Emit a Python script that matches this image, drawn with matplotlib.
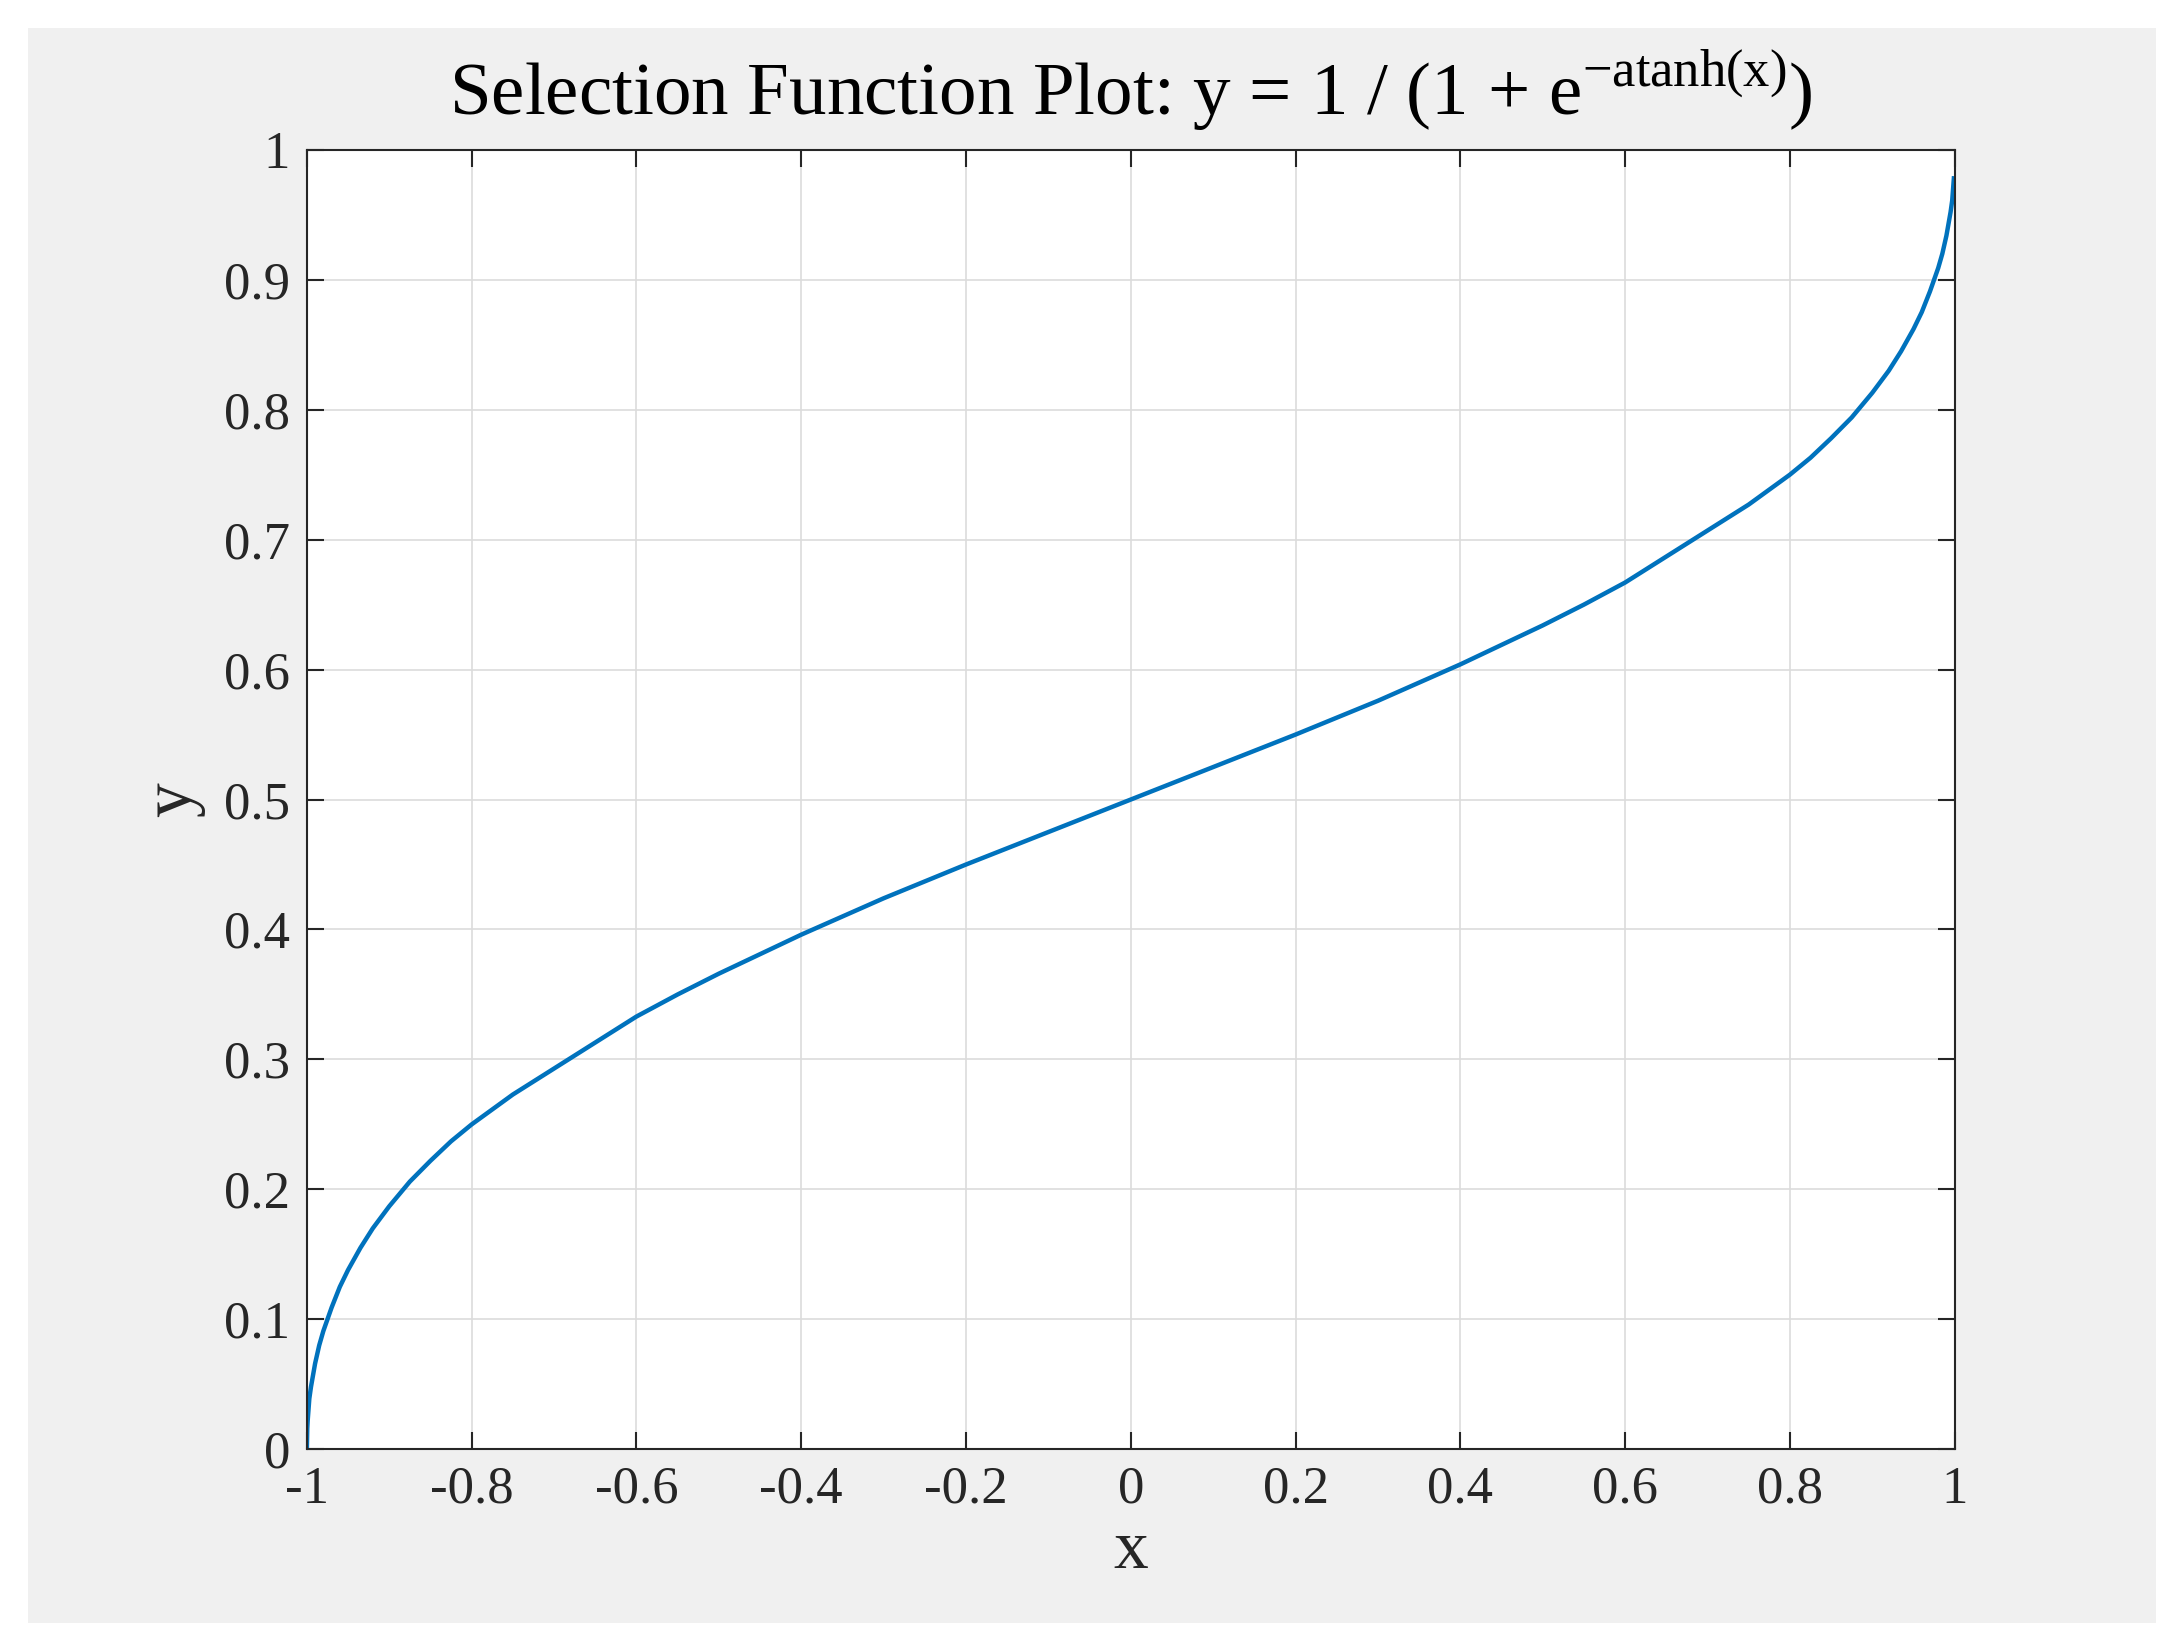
import matplotlib.pyplot as plt
from matplotlib.patches import Rectangle

# values
x_vals = [-1.0, -0.9995, -0.999, -0.997, -0.995, -0.99, -0.985, -0.98, -0.97, -0.96, -0.95,
          -0.935, -0.92, -0.9, -0.875, -0.85, -0.825, -0.8, -0.75, -0.7, -0.65, -0.6,
          -0.55, -0.5, -0.45, -0.4, -0.35, -0.3, -0.25, -0.2, -0.1, 0.0, 0.1, 0.2,
          0.25, 0.3, 0.35, 0.4, 0.45, 0.5, 0.55, 0.6, 0.65, 0.7, 0.75, 0.8, 0.825,
          0.85, 0.875, 0.9, 0.92, 0.935, 0.95, 0.96, 0.97, 0.98, 0.985, 0.99, 0.995,
          0.997, 0.999]
y_vals = [0.0, 0.016, 0.022, 0.039, 0.048, 0.066, 0.080, 0.091, 0.109, 0.125, 0.138,
          0.155, 0.170, 0.187, 0.206, 0.222, 0.237, 0.250, 0.273, 0.293, 0.313, 0.333,
          0.350, 0.366, 0.381, 0.396, 0.410, 0.424, 0.437, 0.450, 0.475, 0.500, 0.525,
          0.550, 0.563, 0.576, 0.590, 0.604, 0.619, 0.634, 0.650, 0.667, 0.687, 0.707,
          0.727, 0.750, 0.763, 0.778, 0.794, 0.813, 0.830, 0.845, 0.862, 0.875, 0.891,
          0.909, 0.920, 0.934, 0.952, 0.961, 0.978]

x_ticks = [-1, -0.8, -0.6, -0.4, -0.2, 0, 0.2, 0.4, 0.6, 0.8, 1]
y_ticks = [0, 0.1, 0.2, 0.3, 0.4, 0.5, 0.6, 0.7, 0.8, 0.9, 1]

plt.rcParams['font.family'] = ['Liberation Serif', 'DejaVu Serif']

fig = plt.figure(figsize=(21.84, 16.46), dpi=100)
fig.patch.set_facecolor('white')
fig.patches.append(Rectangle((0.013, 0.014), 0.974, 0.969, transform=fig.transFigure,
                             facecolor='#f0f0f0', edgecolor='none', zorder=-1))

ax = fig.add_axes([0.1405, 0.1195, 0.7545, 0.7895])
ax.plot(x_vals, y_vals, color='#0072bd', linewidth=3.2)
ax.set_xlim(-1, 1)
ax.set_ylim(0, 1)
ax.set_xticks(x_ticks)
ax.set_yticks(y_ticks)
ax.set_xticklabels([f'{t:g}' for t in x_ticks])
ax.set_yticklabels([f'{t:g}' for t in y_ticks])
ax.grid(True, color='#dcdcdc', linewidth=1.2)
ax.tick_params(direction='in', length=12, width=1.5, labelsize=38, colors='#262626',
               top=True, right=True, pad=12)
for s in ax.spines.values():
    s.set_linewidth(1.5)
    s.set_color('#262626')
ax.set_xlabel('x', fontsize=50, color='#262626', labelpad=4)
ax.set_ylabel('y', fontsize=50, color='#262626', labelpad=14)

# title built from pieces so the exponent keeps a plain hyphen
title_main = 'Selection Function Plot: y = 1 / (1 + e'
ax.text(0.5, 1.012, title_main + '$^{\\mathregular{-atanh(x)}}$)', transform=ax.transAxes,
        ha='center', va='bottom', fontsize=54, color='#000000')

fig.savefig('out.png', dpi=100)
